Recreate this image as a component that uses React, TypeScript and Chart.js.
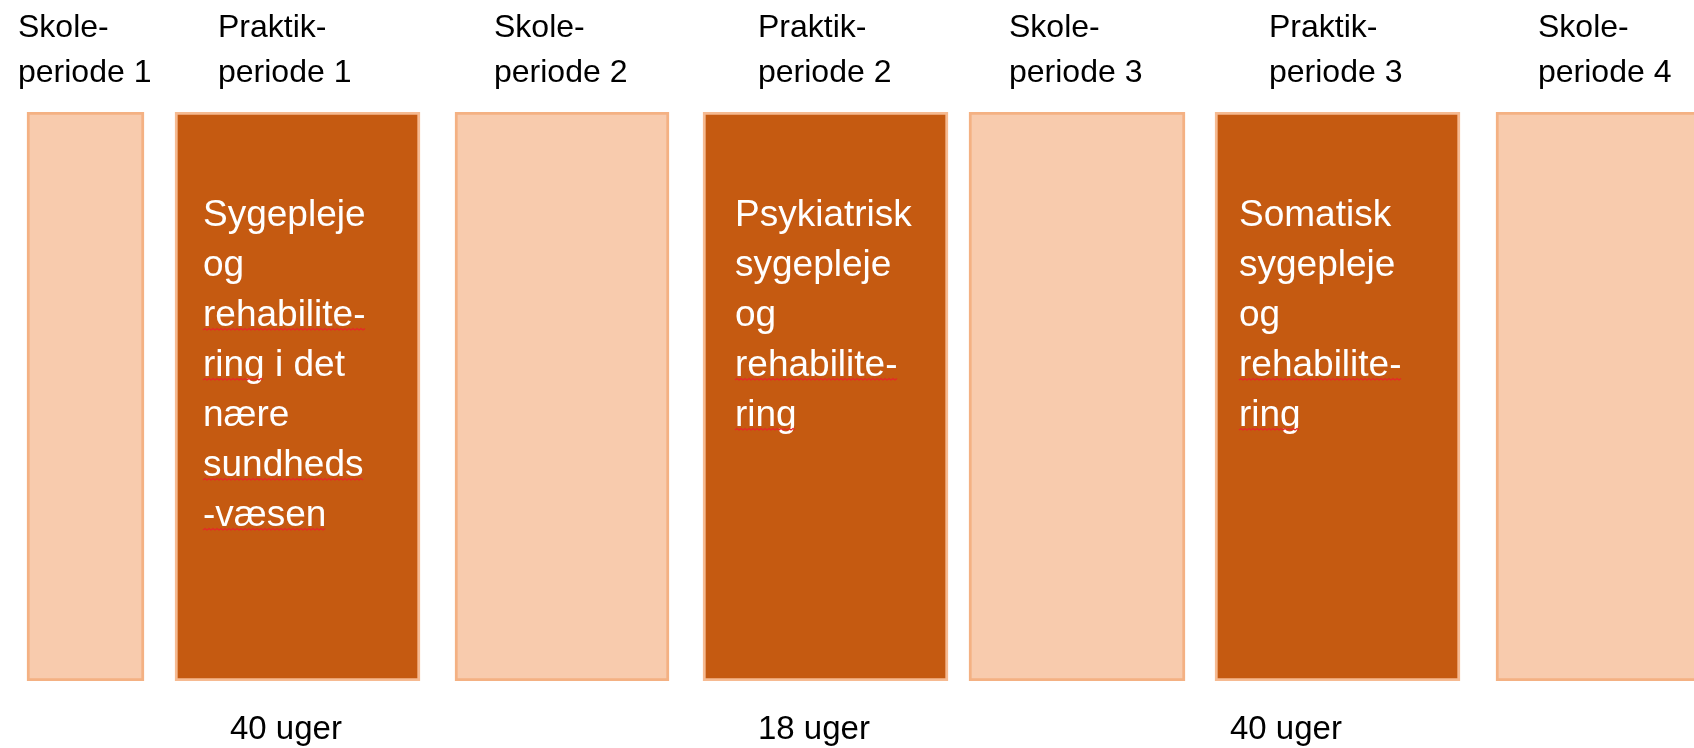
import React, { useEffect, useRef } from "react";
import { Chart, registerables } from "chart.js";

Chart.register(...registerables);

// ---- data ----
const periodLabels = [
  ["Skole-", "periode 1"],
  ["Praktik-", "periode 1"],
  ["Skole-", "periode 2"],
  ["Praktik-", "periode 2"],
  ["Skole-", "periode 3"],
  ["Praktik-", "periode 3"],
  ["Skole-", "periode 4"],
];
const periodKinds = ["skole", "praktik", "skole", "praktik", "skole", "praktik", "skole"];
const periodStart = [27, 175, 455, 703, 969, 1215, 1496];
const periodEnd = [144, 420, 669, 948, 1185, 1460, 1711];

const praktikTexts = [
  ["Sygepleje", "og", "rehabilite-", "ring i det", "nære", "sundheds", "-væsen"],
  ["Psykiatrisk", "sygepleje", "og", "rehabilite-", "ring"],
  ["Somatisk", "sygepleje", "og", "rehabilite-", "ring"],
];
const praktikWeeks = ["40 uger", "18 uger", "40 uger"];
const spellMarked = ["rehabilite-", "ring", "sundheds", "-væsen"];

// ---- layout (axis units) ----
const AXIS_MAX = 1694;
const headerAnchor = [18, 218, 494, 758, 1009, 1269, 1538];
const innerAnchor = [203, 735, 1239];
const weeksAnchor = [230, 758, 1230];

const FONT = '"Liberation Sans", Arial, sans-serif';
const DARK = "rgb(197,90,17)";
const LIGHT = "rgb(248,203,173)";
const BORDER_LIGHT = "rgb(244,177,131)";
const BORDER_DARK = "rgb(246,186,145)";

const textPlugin = {
  id: "periodText",
  afterDraw(chart: any) {
    const ctx = chart.ctx as CanvasRenderingContext2D;
    const xs = chart.scales.x;
    ctx.save();
    ctx.textBaseline = "alphabetic";
    ctx.textAlign = "left";

    // headers
    ctx.fillStyle = "#000";
    ctx.font = `32px ${FONT}`;
    periodLabels.forEach((lines, i) => {
      const x = xs.getPixelForValue(headerAnchor[i]);
      lines.forEach((ln, j) => ctx.fillText(ln, x, 37 + j * 45));
    });

    // inner praktik texts
    ctx.font = `37px ${FONT}`;
    praktikTexts.forEach((lines, i) => {
      const x0 = xs.getPixelForValue(innerAnchor[i]);
      lines.forEach((ln, j) => {
        const y = 226 + j * 50;
        ctx.fillStyle = "#fff";
        ctx.fillText(ln, x0, y);
        // spell-check squiggles
        const words = ln.split(" ");
        let cx = x0;
        const spaceW = ctx.measureText(" ").width;
        words.forEach((w) => {
          const ww = ctx.measureText(w).width;
          if (spellMarked.includes(w)) {
            ctx.beginPath();
            ctx.strokeStyle = "rgb(230,40,40)";
            ctx.lineWidth = 1.2;
            const yy = y + 4;
            let up = true;
            ctx.moveTo(cx, yy);
            for (let px = cx + 2; px <= cx + ww; px += 2) {
              ctx.lineTo(px, up ? yy - 1.5 : yy);
              up = !up;
            }
            ctx.stroke();
          }
          cx += ww + spaceW;
        });
      });
    });

    // weeks
    ctx.fillStyle = "#000";
    ctx.font = `33px ${FONT}`;
    praktikWeeks.forEach((t, i) => {
      ctx.fillText(t, xs.getPixelForValue(weeksAnchor[i]), 739);
    });
    ctx.restore();
  },
};

export default function App() {
  const ref = useRef<HTMLCanvasElement | null>(null);

  useEffect(() => {
    if (!ref.current) return;
    const datasets = periodStart.map((s, i) => ({
      label: periodLabels[i].join(""),
      data: [[s, periodEnd[i]]],
      backgroundColor: periodKinds[i] === "praktik" ? DARK : LIGHT,
      borderColor: periodKinds[i] === "praktik" ? BORDER_DARK : BORDER_LIGHT,
      borderWidth: 3,
      borderSkipped: false,
      grouped: false,
      barPercentage: 1,
      categoryPercentage: 1,
    }));
    const chart = new Chart(ref.current, {
      type: "bar",
      data: { labels: [""], datasets: datasets as any },
      options: {
        indexAxis: "y",
        animation: false,
        responsive: false,
        layout: { padding: { top: 112, bottom: 67, left: 0, right: 0 } },
        plugins: { legend: { display: false }, tooltip: { enabled: false }, title: { display: false } },
        scales: {
          x: { type: "linear", min: 0, max: AXIS_MAX, display: false },
          y: { type: "category", display: false },
        },
      },
      plugins: [textPlugin],
    });
    return () => chart.destroy();
  }, []);

  return (
    <div style={{ position: "fixed", left: 0, top: 0, width: 1694, height: 748, background: "#fff" }}>
      <canvas ref={ref} width={1694} height={748} style={{ display: "block", width: 1694, height: 748 }} />
    </div>
  );
}
